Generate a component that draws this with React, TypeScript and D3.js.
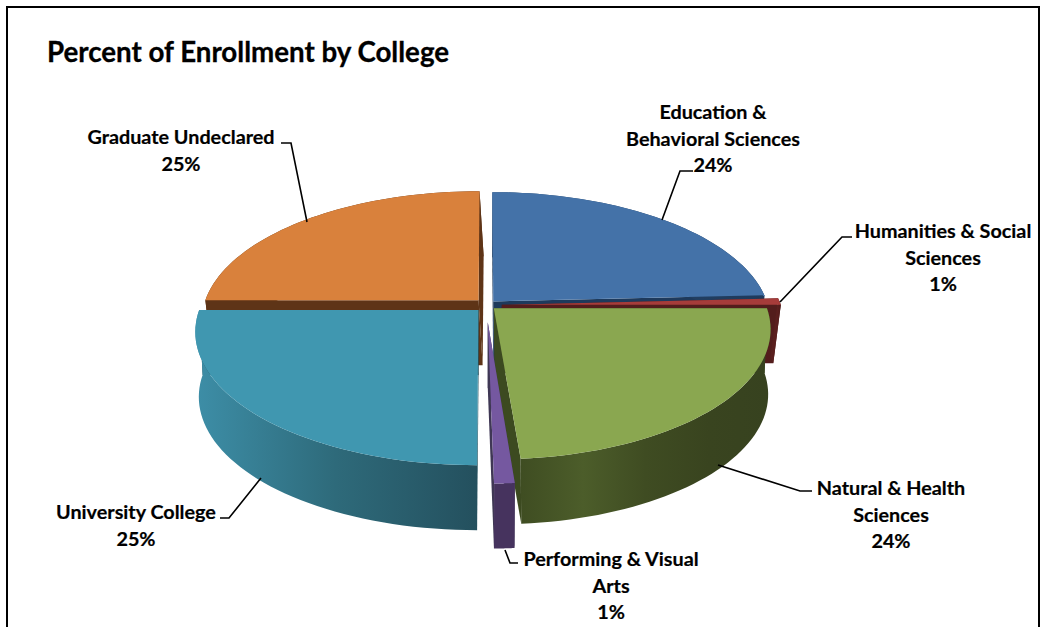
import React from "react";
import * as d3 from "d3";

const colleges = [
  "Education & Behavioral Sciences",
  "Humanities & Social Sciences",
  "Natural & Health Sciences",
  "Performing & Visual Arts",
  "University College",
  "Graduate Undeclared",
];
const shares = [24.2, 0.8, 23.75, 1.25, 25, 25];
const explodes = [0.038, 0.057, 0.038, 0.13, 0.038, 0.038];
const explodeLift = [1, 1, 1, 1, 1.4, 1.4];
const radiusScale = [0.985, 1, 0.975, 1, 0.995, 0.985];
const depthScale = [1, 0.9, 1, 1, 1, 1];
const endTrim = [0, 0, 0, 1, 0, 0];
const wallShift = [0, -4, 1, 0, 0, 4];
const topColors = ["#4472a8", "#a63c3a", "#8aa750", "#7558a0", "#4097b0", "#d9813c"];
const radialWallColors = ["#1e3a5c", "#531d1c", "#3c4a20", "#3f3754", "#24515f", "#5e3417"];
const outerWallStops = [
  ["#2c4c70", "#1e3a5c"],
  ["#5a1f1e", "#4b1a19"],
  ["#3f4d22", "#4c5d2a", "#3f4c22", "#39441f", "#37421f"],
  ["#46335e", "#46335e"],
  ["#24505e", "#2e6a7a", "#3d8ea7"],
  ["#5e3417", "#5e3417"],
];
const drawOrder = [5, 0, 1, 4, 2, 3];

const labelLines = [
  ["Education &", "Behavioral Sciences", "24%"],
  ["Humanities & Social", "Sciences", "1%"],
  ["Natural & Health", "Sciences", "24%"],
  ["Performing & Visual", "Arts", "1%"],
  ["University College", "25%"],
  ["Graduate Undeclared", "25%"],
];
const labelAnchors: [number, number][] = [
  [713, 119], [943, 238], [891, 495], [611, 566], [136, 519], [181, 144],
];
const leaders: [number, number][][] = [
  [[693, 171], [680, 171], [662, 220]],
  [[852, 237], [842, 237], [780, 302]],
  [[812, 491], [800, 491], [718, 465]],
  [[518, 563], [510, 563], [505, 550]],
  [[220, 518], [229, 518], [261, 478]],
  [[281, 143], [291, 143], [307, 222]],
];

const cx = 486, cy = 305, R = 279, S = 129.5, P = 0.16;
const depth = 65, vanishK = 0.012;
const FONT = "Lato, Carlito, sans-serif";

type Pt = [number, number];
const project = (u: number, v: number): Pt => {
  const w = 1 + P * v;
  return [cx + (R * u) / w, cy - (S * v) / w];
};
const extrude = ([x, y]: Pt, shift: number, scale: number): Pt => [
  x + (cx - x) * vanishK + shift,
  y + depth * scale,
];

const arcs = d3.pie<number>().sort(null).value((d) => d)(shares);
const toPath = d3.line<Pt>();

const slices = arcs.map((a, i) => {
  const start = a.startAngle;
  const end = a.endAngle - (endTrim[i] * Math.PI) / 180;
  const mid = (start + end) / 2;
  const ex = explodes[i] * Math.sin(mid);
  const ey = explodes[i] * Math.cos(mid) * explodeLift[i];
  const r = radiusScale[i];
  const apex = project(ex, ey);
  const angles = d3.range(0, 49).map((k) => start + ((end - start) * k) / 48);
  const rim = angles.map((t) => project(ex + r * Math.sin(t), ey + r * Math.cos(t)));
  const rimB = rim.map((p) => extrude(p, wallShift[i], depthScale[i]));
  const apexB = extrude(apex, wallShift[i], depthScale[i]);
  const first = rim[0], last = rim[rim.length - 1];
  return {
    i,
    top: toPath([apex, ...rim])! + "Z",
    outer: toPath([...rim, ...[...rimB].reverse()])! + "Z",
    wallA: toPath([apex, first, rimB[0], apexB])! + "Z",
    wallB: toPath([apex, last, rimB[rimB.length - 1], apexB])! + "Z",
    xMin: d3.min(rim, (p) => p[0])!,
    xMax: d3.max(rim, (p) => p[0])!,
  };
});

const lineGen = d3.line<[number, number]>();

export default function App() {
  return (
    <svg
      width={1046}
      height={627}
      style={{ position: "absolute", left: 0, top: 0, background: "#fff" }}
      fontFamily={FONT}
    >
      <defs>
        {slices.map((s) => (
          <linearGradient
            key={s.i}
            id={`wall${s.i}`}
            gradientUnits="userSpaceOnUse"
            x1={s.xMin}
            x2={s.xMax}
            y1={0}
            y2={0}
          >
            {(s.i === 4 ? [...outerWallStops[s.i]].reverse() : outerWallStops[s.i]).map((c, k, arr) => (
              <stop key={k} offset={k / (arr.length - 1)} stopColor={c} />
            ))}
          </linearGradient>
        ))}
      </defs>
      <path d="M7 640V7H1039V640" fill="none" stroke="#000" strokeWidth={2} />
      <text x={47} y={61.5} fontSize={27.7} fontWeight={700} fill="#000" stroke="#000" strokeWidth={0.3}>
        Percent of Enrollment by College
      </text>
      {drawOrder.map((i) => {
        const s = slices[i];
        return (
          <g key={i}>
            <path d={s.wallA} fill={radialWallColors[i]} />
            <path d={s.wallB} fill={radialWallColors[i]} />
            <path d={s.outer} fill={`url(#wall${i})`} />
            <path d={s.top} fill={topColors[i]} />
          </g>
        );
      })}
      {leaders.map((pts, i) => (
        <path key={i} d={lineGen(pts)!} fill="none" stroke="#000" strokeWidth={1.6} />
      ))}
      {labelLines.map((lines, i) => (
        <text key={i} textAnchor="middle" fontSize={19.8} fontWeight={700} fill="#000" stroke="#000" strokeWidth={0.2}>
          {lines.map((t, k) => (
            <tspan key={k} x={labelAnchors[i][0]} y={labelAnchors[i][1] + k * 26.5}>
              {t}
            </tspan>
          ))}
        </text>
      ))}
    </svg>
  );
}
